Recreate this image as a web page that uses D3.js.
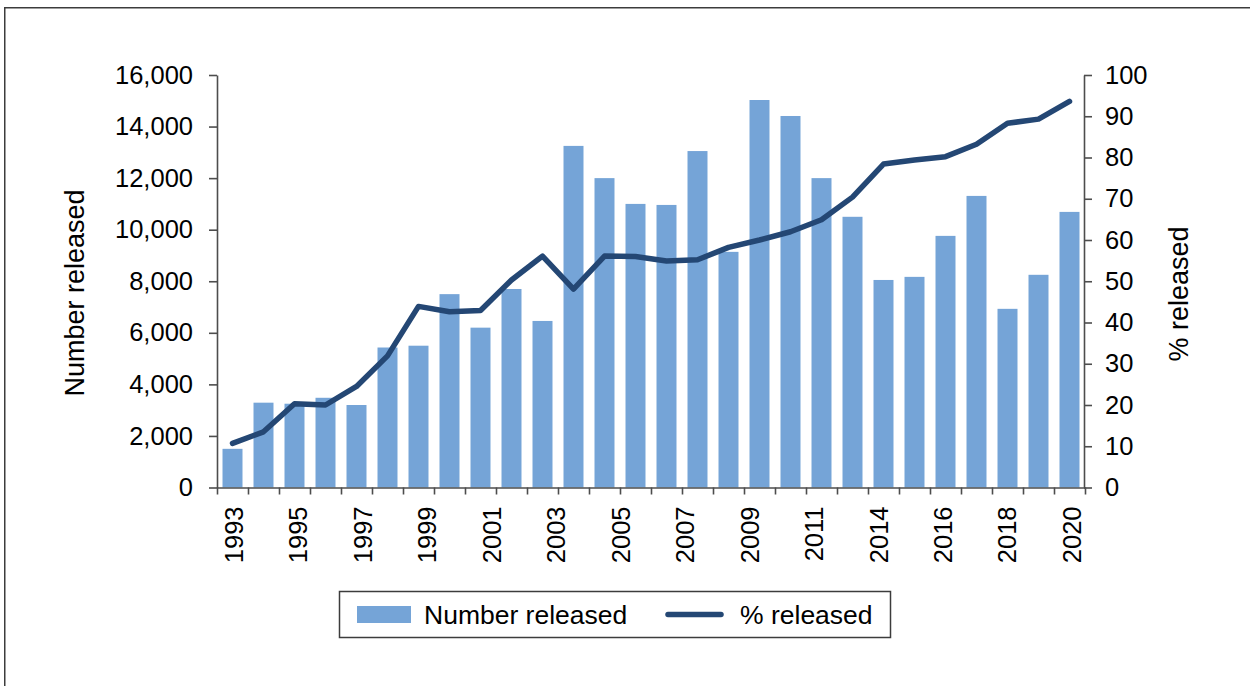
<!DOCTYPE html>
<html>
<head>
<meta charset="utf-8">
<script src="https://cdn.jsdelivr.net/npm/d3@7"></script>
<style>
  html, body { margin: 0; padding: 0; background: #fff; }
  svg { display: block; }
  text { font-family: "Liberation Sans", Arial, sans-serif; fill: #000; }
</style>
</head>
<body>
<svg id="chart" width="1250" height="686"></svg>
<script>
// Release years
const years = [1993, 1994, 1995, 1996, 1997, 1998, 1999, 2000, 2001, 2002,
               2003, 2004, 2005, 2006, 2007, 2008, 2009, 2010, 2011, 2012,
               2013, 2014, 2015, 2016, 2017, 2018, 2019, 2020];

// Number of records released each year (left axis)
const numberReleased = [1500, 3290, 3250, 3480, 3200, 5430, 5500, 7500, 6200, 7700,
                        6460, 13250, 12000, 11000, 10960, 13050, 9140, 15030, 14410, 12000,
                        10500, 8050, 8170, 9760, 11310, 6930, 8250, 10690];

// Share released, percent (right axis)
const pctReleased = [10.7, 13.5, 20.3, 20.0, 24.5, 31.9, 43.9, 42.6, 42.9, 50.3,
                     56.1, 48.1, 56.1, 56.0, 54.9, 55.2, 58.2, 60.0, 62.0, 64.9,
                     70.4, 78.4, 79.4, 80.2, 83.2, 88.3, 89.3, 93.6];

// Category axis labels
const xLabels = ["1993", "1995", "1997", "1999", "2001", "2003", "2005",
                 "2007", "2009", "2011", "2014", "2016", "2018", "2020"];

const leftTicks = [0, 2000, 4000, 6000, 8000, 10000, 12000, 14000, 16000];
const rightTicks = [0, 10, 20, 30, 40, 50, 60, 70, 80, 90, 100];

const svg = d3.select("#chart");
const axisColor = "#4d4d4d";
const barColor = "#75a4d7";
const lineColor = "#244774";
const tickFont = 25.5;

// outer frame
svg.append("rect")
  .attr("x", 4.75).attr("y", 7.75)
  .attr("width", 1300).attr("height", 700)
  .attr("fill", "none").attr("stroke", "#3c3c3c").attr("stroke-width", 1.5);

const plotLeft = 217, plotRight = 1085, plotTop = 75, plotBottom = 487.5;

const x = d3.scaleBand().domain(years).range([plotLeft, plotRight])
  .paddingInner(0.355).paddingOuter(0.1775);
const yLeft = d3.scaleLinear().domain([0, 16000]).range([plotBottom, plotTop]);
const yRight = d3.scaleLinear().domain([0, 100]).range([plotBottom, plotTop]);

// bars
svg.append("g").selectAll("rect")
  .data(years)
  .join("rect")
  .attr("x", (d) => x(d))
  .attr("width", x.bandwidth())
  .attr("y", (d, i) => yLeft(numberReleased[i]))
  .attr("height", (d, i) => yLeft(0) - yLeft(numberReleased[i]))
  .attr("fill", barColor);

// percentage line
const line = d3.line()
  .x((d) => x(d) + x.bandwidth() / 2)
  .y((d, i) => yRight(pctReleased[i]));
svg.append("path")
  .datum(years)
  .attr("d", line)
  .attr("fill", "none")
  .attr("stroke", lineColor)
  .attr("stroke-width", 5.5)
  .attr("stroke-linejoin", "round")
  .attr("stroke-linecap", "round");

function styleAxis(g, fontSize) {
  g.select(".domain").attr("stroke", axisColor).attr("stroke-width", 1.6);
  g.selectAll(".tick line").attr("stroke", axisColor).attr("stroke-width", 1.6);
  g.selectAll(".tick text").attr("font-size", fontSize)
    .attr("font-family", "Liberation Sans, Arial, sans-serif").attr("fill", "#000");
}

// left axis
const gLeft = svg.append("g").attr("transform", `translate(${plotLeft},0)`)
  .call(d3.axisLeft(yLeft).tickValues(leftTicks).tickFormat(d3.format(","))
    .tickSize(8).tickSizeOuter(0).tickPadding(16));
styleAxis(gLeft, tickFont);

// right axis
const gRight = svg.append("g").attr("transform", `translate(${plotRight - 1},0)`)
  .call(d3.axisRight(yRight).tickValues(rightTicks).tickFormat(d3.format("d"))
    .tickSize(8).tickSizeOuter(0).tickPadding(13));
styleAxis(gRight, tickFont);

// bottom axis: tick marks between categories
const xEdge = d3.scaleLinear().domain([0, years.length]).range([plotLeft, plotRight]);
const gBottom = svg.append("g").attr("transform", `translate(0,${plotBottom})`)
  .call(d3.axisBottom(xEdge).tickValues(d3.range(years.length + 1)).tickFormat("")
    .tickSize(7).tickSizeOuter(0));
styleAxis(gBottom, tickFont);

// category labels spread across the first to last category
const xLab = d3.scalePoint().domain(xLabels)
  .range([x(years[0]) + x.bandwidth() / 2 + 1, x(years[years.length - 1]) + x.bandwidth() / 2 + 2]);
const gLab = svg.append("g").attr("transform", `translate(0,${plotBottom})`)
  .call(d3.axisBottom(xLab).tickSize(0).tickPadding(0));
gLab.select(".domain").remove();
gLab.selectAll(".tick text")
  .attr("font-size", tickFont)
  .attr("font-family", "Liberation Sans, Arial, sans-serif")
  .attr("fill", "#000")
  .attr("text-anchor", "end")
  .attr("transform", "rotate(-90)")
  .attr("x", -19)
  .attr("y", 0)
  .attr("dy", "0.35em");

// axis titles
svg.append("text")
  .attr("transform", "translate(84,293) rotate(-90)")
  .attr("text-anchor", "middle")
  .attr("font-size", 27)
  .text("Number released");
svg.append("text")
  .attr("transform", "translate(1188,294) rotate(-90)")
  .attr("text-anchor", "middle")
  .attr("font-size", 27)
  .text("% released");

// legend
const legend = svg.append("g");
legend.append("rect")
  .attr("x", 339.5).attr("y", 591.5).attr("width", 551).attr("height", 46)
  .attr("fill", "#fff").attr("stroke", "#3c3c3c").attr("stroke-width", 1.5);
legend.append("rect")
  .attr("x", 357).attr("y", 606).attr("width", 54).attr("height", 17)
  .attr("fill", barColor);
legend.append("text")
  .attr("x", 424).attr("y", 614.5).attr("dy", "0.35em")
  .attr("font-size", 26.5)
  .text("Number released");
legend.append("line")
  .attr("x1", 668).attr("x2", 721).attr("y1", 614.5).attr("y2", 614.5)
  .attr("stroke", lineColor).attr("stroke-width", 5.5).attr("stroke-linecap", "round");
legend.append("text")
  .attr("x", 740).attr("y", 614.5).attr("dy", "0.35em")
  .attr("font-size", 26.5)
  .text("% released");
</script>
</body>
</html>
